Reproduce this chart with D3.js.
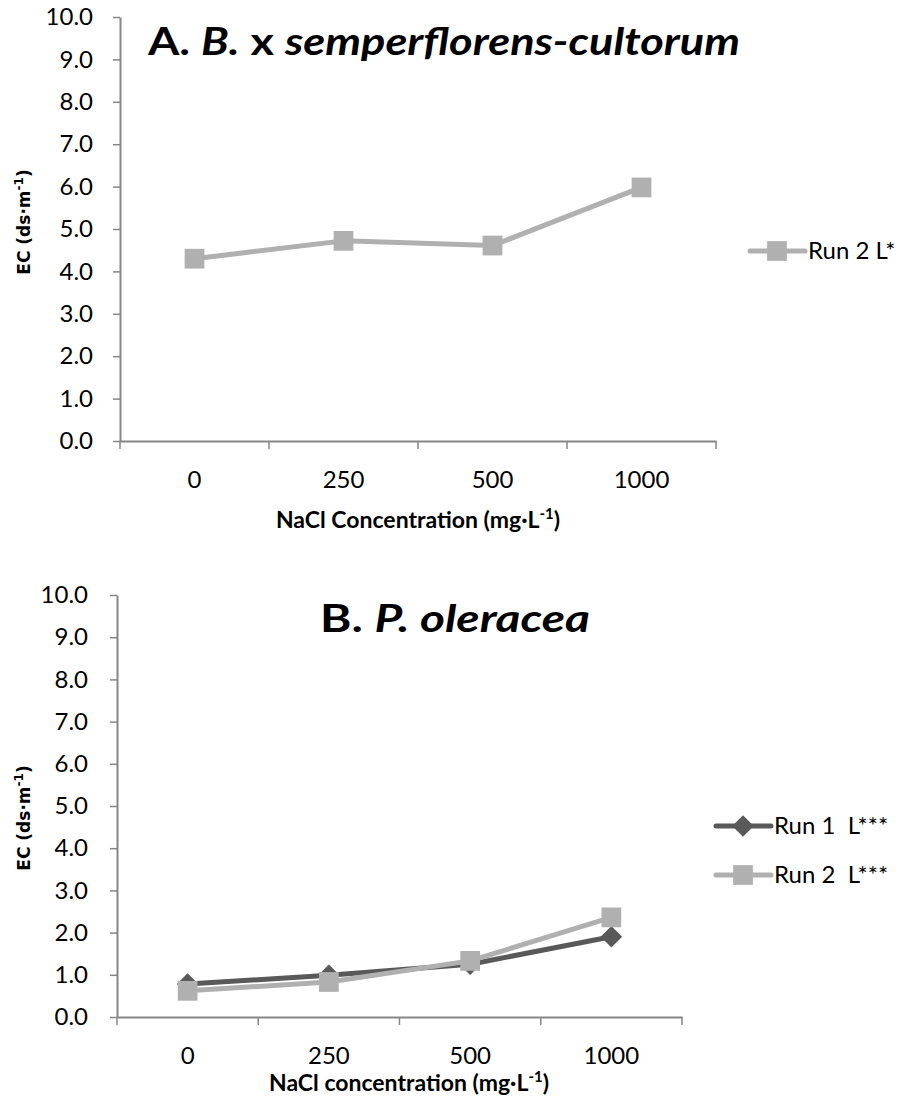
<!DOCTYPE html>
<html><head><meta charset="utf-8">
<script src="https://cdn.jsdelivr.net/npm/d3@7"></script>
<style>body{margin:0;background:#fff}svg{display:block}</style>
</head><body>
<script>
const categories = ["0","250","500","1000"];
const yTicks = [0,1,2,3,4,5,6,7,8,9,10];
const runA2 = [4.30, 4.72, 4.61, 5.98];
const runB1 = [0.78, 0.99, 1.25, 1.90];
const runB2 = [0.62, 0.83, 1.33, 2.36];
const legendA = ["Run 2 L*"];
const legendB = ["Run 1  L***", "Run 2  L***"];

const W = 907, H = 1106;
const svg = d3.select("body").append("svg").attr("width", W).attr("height", H);
const FONT = "Lato, 'Open Sans', sans-serif";
const AX = "#868686", LIGHT = "#B0B0B0", DARK = "#595959";

function chart(o) {
  const x = d3.scaleBand().domain(categories).range([o.x0, o.x1]);
  const y = d3.scaleLinear().domain([0, 10]).range([o.y0, o.y1]);
  const g = svg.append("g");
  // y axis
  const ya = d3.axisLeft(y).tickValues(yTicks).tickFormat(d3.format(".1f")).tickSize(7).tickSizeOuter(0).tickPadding(o.ypad);
  const yg = g.append("g").attr("transform", `translate(${o.x0},0)`).call(ya);
  yg.select(".domain").attr("stroke", AX).attr("stroke-width", 2);
  yg.selectAll(".tick line").attr("stroke", AX).attr("stroke-width", 1.5);
  yg.selectAll(".tick text").attr("font-family", FONT).attr("font-size", 24).attr("fill", "#000");
  // x axis
  const xa = d3.axisBottom(x).tickSize(0).tickSizeOuter(0).tickPadding(o.xpad);
  const xg = g.append("g").attr("transform", `translate(0,${o.y0})`).call(xa);
  xg.select(".domain").attr("stroke", AX).attr("stroke-width", 2);
  xg.selectAll(".tick text").attr("font-family", FONT).attr("font-size", 24).attr("fill", "#000");
  const bounds = categories.map(c => x(c)).concat([o.x1]);
  xg.selectAll("line.bt").data(bounds).enter().append("line").attr("class", "bt")
    .attr("x1", d => d).attr("x2", d => d).attr("y1", 0).attr("y2", 8)
    .attr("stroke", AX).attr("stroke-width", 1.5);
  // titles
  const t = g.append("text").attr("x", o.tx).attr("y", o.ty).attr("font-family", FONT)
    .attr("font-weight", "bold").attr("font-size", o.tsize).attr("fill", "#000");
  o.title.forEach(p => t.append("tspan").attr("font-style", p[1] ? "italic" : "normal").text(p[0]));
  t.attr("textLength", o.tlen).attr("lengthAdjust", "spacingAndGlyphs");
  // x title
  const xt = g.append("text").attr("x", o.xtx).attr("y", o.xty).attr("text-anchor", "middle")
    .attr("font-family", FONT).attr("font-weight", "bold").attr("font-size", 23).attr("fill", "#000");
  xt.append("tspan").text(o.xtitle);
  xt.append("tspan").attr("dy", -9).attr("font-size", 15).text("-1");
  xt.append("tspan").attr("dy", 9).text(")");
  // y title
  const yt = g.append("text").attr("transform", `translate(${o.ytx},${o.yty}) rotate(-90)`).attr("text-anchor", "middle")
    .attr("font-family", "'DejaVu Sans', sans-serif").attr("font-weight", "bold").attr("font-size", 17).attr("fill", "#000");
  yt.append("tspan").text("EC (ds·m");
  yt.append("tspan").attr("dy", -7).attr("font-size", 12).text("-1");
  yt.append("tspan").attr("dy", 7).text(")");
  // series
  const line = d3.line().x((d, i) => x(categories[i]) + x.bandwidth() / 2).y(d => y(d));
  o.series.forEach((s, si) => {
    const isD = s.shape === "diamond";
    g.append("path").datum(s.values).attr("d", line).attr("fill", "none")
      .attr("stroke", s.color).attr("stroke-width", 5).attr("stroke-linejoin", "round");
    const sym = d3.symbol().type(d3.symbolSquare).size(isD ? 230 : 390);
    g.selectAll(null).data(s.values).enter().append("path")
      .attr("d", sym)
      .attr("transform", (d, i) => `translate(${x(categories[i]) + x.bandwidth() / 2},${y(d)})` + (isD ? " rotate(45)" : ""))
      .attr("fill", s.color);
    // legend
    const ly = o.legY[si];
    g.append("line").attr("x1", o.legX).attr("x2", o.legX + 55).attr("y1", ly).attr("y2", ly)
      .attr("stroke", s.color).attr("stroke-width", 5).attr("stroke-linecap", "round");
    g.append("path").attr("d", sym).attr("transform", `translate(${o.legX + 27},${ly})` + (isD ? " rotate(45)" : "")).attr("fill", s.color);
    g.append("text").attr("x", o.legX + 58).attr("y", ly + 8).attr("font-family", FONT).attr("font-size", 24)
      .attr("fill", "#000").style("white-space", "pre").text(s.name);
  });
}

chart({
  x0: 120, x1: 716, y0: 441, y1: 17, xpad: 30, ypad: 20,
  title: [["A. ", false], ["B.", true], [" x ", false], ["semperflorens-cultorum", true]],
  tx: 148, ty: 55, tsize: 38, tlen: 592,
  xtitle: "NaCl Concentration (mg·L", xtx: 418, xty: 528,
  ytx: 30, yty: 222,
  legX: 750, legY: [251],
  series: [{ name: legendA[0], values: runA2, color: LIGHT, shape: "square" }]
});
chart({
  x0: 117, x1: 682, y0: 1017, y1: 595, xpad: 30, ypad: 22,
  title: [["B. ", false], ["P. oleracea", true]],
  tx: 320, ty: 632, tsize: 38, tlen: 270,
  xtitle: "NaCl concentration (mg·L", xtx: 409, xty: 1091,
  ytx: 30, yty: 818,
  legX: 716, legY: [826, 875],
  series: [
    { name: legendB[0], values: runB1, color: DARK, shape: "diamond" },
    { name: legendB[1], values: runB2, color: LIGHT, shape: "square" }
  ]
});
</script>
</body></html>
